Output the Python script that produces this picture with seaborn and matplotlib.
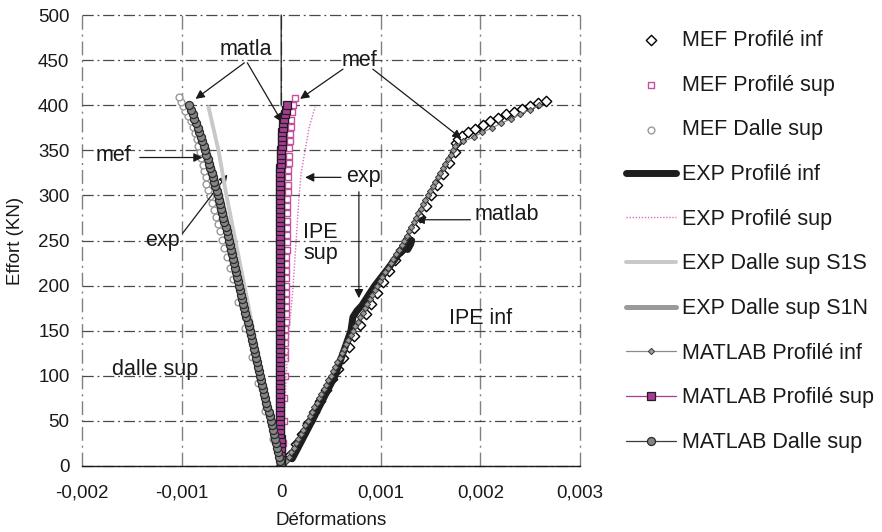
import matplotlib
matplotlib.use("Agg")
import matplotlib.pyplot as plt
import seaborn as sns

sns.set_theme(style="white")
plt.rcParams['font.family'] = ['Liberation Sans', 'DejaVu Sans']

# ---------------- data (strain, load kN) ----------------
x_ticks = [-0.002, -0.001, 0.0, 0.001, 0.002, 0.003]
x_tick_labels = ['-0,002', '-0,001', '0', '0,001', '0,002', '0,003']
y_ticks = [0, 50, 100, 150, 200, 250, 300, 350, 400, 450, 500]
y_tick_labels = ['0', '50', '100', '150', '200', '250', '300', '350', '400', '450', '500']

# MEF Profilé inf (open diamonds)
mef_inf_load = [0, 12, 24, 36, 48, 60, 72, 84, 96, 108, 120, 132, 144, 156, 168, 180, 192,
                204, 216, 228, 240, 252, 264, 276, 288, 300, 312, 324, 336, 348, 358,
                362, 366, 370, 374, 378, 382, 386, 390, 393, 396, 399, 402, 405]
mef_inf_x = [0, 9e-5, 15e-5, 21e-5, 27e-5, 33e-5, 39e-5, 45e-5, 51e-5, 57e-5, 62e-5, 68e-5,
             73e-5, 79e-5, 85e-5, 90e-5, 96e-5, 102e-5, 108e-5, 114e-5, 120e-5, 127e-5,
             133e-5, 139e-5, 145e-5, 150e-5, 156e-5, 162e-5, 168e-5, 174e-5, 176e-5,
             178e-5, 182e-5, 188e-5, 195e-5, 203e-5, 210e-5, 218e-5, 226e-5, 234e-5,
             242e-5, 250e-5, 258e-5, 266e-5]

# MEF Profilé sup (open squares)
mef_sup_load = [0, 25, 50, 75, 100, 120, 128, 136, 144, 152, 160, 168, 176, 184, 192, 200,
                208, 216, 224, 232, 240, 248, 256, 264, 272, 280, 288, 296, 304, 312, 320,
                328, 336, 344, 352, 360, 368, 376, 384, 392, 400, 408]
mef_sup_x = [0, 1.5e-5, 2.5e-5, 3e-5, 3.5e-5, 4e-5, 4e-5, 4e-5, 4e-5, 4e-5, 4.5e-5, 4.5e-5,
             4.5e-5, 4.5e-5, 4.5e-5, 5e-5, 5e-5, 5e-5, 5e-5, 5e-5, 5.5e-5, 5.5e-5, 5.5e-5,
             5.5e-5, 6e-5, 6e-5, 6e-5, 6e-5, 6.5e-5, 6.5e-5, 7e-5, 7e-5, 7.5e-5, 7.5e-5,
             8e-5, 8.5e-5, 9e-5, 9.5e-5, 10e-5, 11e-5, 12e-5, 14e-5]

# MEF Dalle sup (open circles)
mef_dalle_load = [0, 30, 61, 92, 121, 153, 182, 207, 220, 232, 242, 251, 260, 268, 276, 284,
                  292, 299, 306, 313, 320, 327, 334, 341, 348, 355, 362, 369, 376, 382, 388,
                  394, 399, 404, 409]
mef_dalle_x = [0, -8e-5, -16e-5, -23e-5, -29e-5, -36e-5, -43e-5, -48e-5, -51e-5, -54e-5,
               -57e-5, -59e-5, -61e-5, -63e-5, -65e-5, -67e-5, -69e-5, -71e-5, -73e-5,
               -75e-5, -76e-5, -78e-5, -79e-5, -81e-5, -82e-5, -84e-5, -85e-5, -87e-5,
               -89e-5, -91e-5, -94e-5, -97e-5, -99e-5, -101e-5, -103e-5]

# EXP Profilé inf (thick black)
exp_inf_load = [8, 12, 50, 100, 150, 165, 172, 178, 190, 200, 220, 235, 245, 250, 246, 240]
exp_inf_x = [11e-5, 13e-5, 31e-5, 54e-5, 70e-5, 72e-5, 76e-5, 81e-5, 88e-5, 94e-5, 108e-5,
             118e-5, 126e-5, 131e-5, 130e-5, 127e-5]

# EXP Profilé sup (pink dotted)
exp_sup_load = [0, 50, 100, 150, 200, 250, 300, 325, 350, 375, 398]
exp_sup_x = [0, 3e-5, 5e-5, 8e-5, 12e-5, 15e-5, 18e-5, 20e-5, 24e-5, 28e-5, 34e-5]

# EXP Dalle sup S1S (light grey)
exp_s1s_load = [0, 100, 200, 250, 300, 350, 398]
exp_s1s_x = [0, -19e-5, -37e-5, -46e-5, -55e-5, -63e-5, -73e-5]

# EXP Dalle sup S1N (grey)
exp_s1n_load = [0, 100, 200, 250, 300, 350, 395]
exp_s1n_x = [0, -20e-5, -41e-5, -50e-5, -61e-5, -74e-5, -90e-5]

# MATLAB series (common load steps)
matlab_load = [0, 5, 10, 15, 20, 25, 30, 35, 40, 45, 50, 55, 60, 65, 70, 75, 80, 85, 90, 95,
               100, 105, 110, 115, 120, 125, 130, 135, 140, 145, 150, 155, 160, 165, 170, 175,
               180, 185, 190, 195, 200, 205, 210, 215, 220, 225, 230, 235, 240, 245, 250, 255,
               260, 265, 270, 275, 280, 285, 290, 295, 300, 305, 310, 315, 320, 325, 330, 335,
               340, 345, 350, 355, 360, 365, 370, 375, 380, 385, 390, 395, 400]
matlab_inf_x = [0, 5e-5, 8e-5, 10e-5, 13e-5, 15e-5, 17e-5, 20e-5, 22e-5, 24e-5, 27e-5, 29e-5,
                31e-5, 33e-5, 36e-5, 38e-5, 40e-5, 43e-5, 45e-5, 47e-5, 50e-5, 52e-5, 54e-5,
                56e-5, 59e-5, 61e-5, 63e-5, 65e-5, 67e-5, 70e-5, 72e-5, 74e-5, 77e-5, 79e-5,
                82e-5, 84e-5, 86e-5, 89e-5, 91e-5, 94e-5, 96e-5, 99e-5, 101e-5, 104e-5,
                107e-5, 110e-5, 112e-5, 115e-5, 118e-5, 121e-5, 123e-5, 126e-5, 128e-5,
                130e-5, 133e-5, 135e-5, 137e-5, 140e-5, 142e-5, 144e-5, 147e-5, 149e-5,
                152e-5, 154e-5, 157e-5, 159e-5, 162e-5, 164e-5, 167e-5, 170e-5, 172e-5,
                175e-5, 183e-5, 194e-5, 202e-5, 212e-5, 221e-5, 231e-5, 240e-5, 250e-5,
                259e-5]
matlab_sup_x = [0, 0, 0, 0, -0.5e-5, -0.5e-5, -0.5e-5, -1e-5, -1e-5, -1e-5, -1e-5, -1e-5,
                -1e-5, -1e-5, -1e-5, -1e-5, -1e-5, -1e-5, -1e-5, -1e-5, -1e-5, -1e-5, -1e-5,
                -1e-5, -1e-5, -1e-5, -1e-5, -1e-5, -1e-5, -1e-5, -1e-5, -1e-5, -1e-5, -1e-5,
                -1e-5, -1e-5, -1e-5, -1e-5, -1e-5, -1e-5, -1e-5, -1e-5, -1e-5, -1e-5, -1e-5,
                -1e-5, -1e-5, -1e-5, -1e-5, -1e-5, -1e-5, -1e-5, -1e-5, -1e-5, -1e-5, -1e-5,
                -1e-5, -1e-5, -1e-5, -1e-5, -1e-5, -1e-5, -1e-5, -1e-5, -1e-5, -1e-5, -1e-5,
                -0.5e-5, 0, 0, 0, 0.5e-5, 0.5e-5, 1e-5, 1e-5, 1.5e-5, 2e-5, 2.5e-5, 3.5e-5,
                4.5e-5, 6e-5]
matlab_dalle_x = [0, -1e-5, -2e-5, -3e-5, -4.5e-5, -5.5e-5, -6.5e-5, -7.5e-5, -8.5e-5,
                  -9.5e-5, -10.5e-5, -11.5e-5, -12.5e-5, -14e-5, -15e-5, -16e-5, -17e-5,
                  -18e-5, -19e-5, -20e-5, -21e-5, -22e-5, -23e-5, -24.5e-5, -25.5e-5,
                  -26.5e-5, -27.5e-5, -28.5e-5, -29.5e-5, -30.5e-5, -31.5e-5, -32.5e-5,
                  -33.5e-5, -35e-5, -36e-5, -37e-5, -38e-5, -39e-5, -40e-5, -41e-5, -42e-5,
                  -43e-5, -44e-5, -45.5e-5, -46.5e-5, -47.5e-5, -48.5e-5, -49.5e-5, -50.5e-5,
                  -51.5e-5, -52.5e-5, -53.5e-5, -54.5e-5, -55.5e-5, -57e-5, -58e-5, -59e-5,
                  -60e-5, -61e-5, -62.5e-5, -63.5e-5, -64.5e-5, -66e-5, -67e-5, -68.5e-5,
                  -69.5e-5, -71e-5, -72e-5, -73.5e-5, -75e-5, -76.5e-5, -78e-5, -79.5e-5,
                  -81e-5, -82.5e-5, -84e-5, -86e-5, -87.5e-5, -89e-5, -91e-5, -93e-5]

# ---------------- figure ----------------
fig = plt.figure(figsize=(8.82, 5.32), dpi=100)
ax = fig.add_axes([82 / 882, 66 / 532, 498 / 882, 451 / 532])

# MEF
sns.scatterplot(x=mef_inf_x, y=mef_inf_load, marker='D', s=28, color='white',
                edgecolor='black', linewidth=1.0, label='MEF Profilé inf', ax=ax, zorder=3)
sns.scatterplot(x=mef_sup_x, y=mef_sup_load, marker='s', s=24, color='white',
                edgecolor='#c4509f', linewidth=1.0, label='MEF Profilé sup', ax=ax, zorder=3)
sns.scatterplot(x=mef_dalle_x, y=mef_dalle_load, marker='o', s=24, color='white',
                edgecolor='#9a9a9a', linewidth=1.0, label='MEF Dalle sup', ax=ax, zorder=3)

# EXP
sns.lineplot(x=exp_inf_x, y=exp_inf_load, sort=False, estimator=None, color='#1e1e1e',
             lw=5.0, label='EXP Profilé inf', ax=ax, zorder=4)
sns.lineplot(x=exp_sup_x, y=exp_sup_load, sort=False, estimator=None, color='#d872bd',
             lw=1.0, linestyle=(0, (1, 1.2)), label='EXP Profilé sup', ax=ax, zorder=4)
sns.lineplot(x=exp_s1s_x, y=exp_s1s_load, sort=False, estimator=None, color='#c8c8c8',
             lw=2.8, label='EXP Dalle sup S1S', ax=ax, zorder=4)
sns.lineplot(x=exp_s1n_x, y=exp_s1n_load, sort=False, estimator=None, color='#9a9a9a',
             lw=3.6, label='EXP Dalle sup S1N', ax=ax, zorder=4)

# MATLAB
sns.lineplot(x=matlab_inf_x, y=matlab_load, sort=False, estimator=None, color='#8a8a8a',
             lw=0.9, marker='D', markersize=3.2, markerfacecolor='#9a9a9a',
             markeredgecolor='#3a3a3a', markeredgewidth=0.7,
             label='MATLAB Profilé inf', ax=ax, zorder=5)
sns.lineplot(x=matlab_sup_x, y=matlab_load, sort=False, estimator=None, color='#a83c92',
             lw=0.9, marker='s', markersize=5.2, markerfacecolor='#a83c92',
             markeredgecolor='#1e1e1e', markeredgewidth=0.9,
             label='MATLAB Profilé sup', ax=ax, zorder=5)
sns.lineplot(x=matlab_dalle_x, y=matlab_load, sort=False, estimator=None, color='#3a3a3a',
             lw=0.9, marker='o', markersize=5.8, markerfacecolor='#858585',
             markeredgecolor='#2a2a2a', markeredgewidth=0.9,
             label='MATLAB Dalle sup', ax=ax, zorder=5)

# ---------------- axes styling ----------------
ax.set_xlim(-0.002, 0.003)
ax.set_ylim(0, 500)
ax.set_xticks(x_ticks)
ax.set_xticklabels(x_tick_labels)
ax.set_yticks(y_ticks)
ax.set_yticklabels(y_tick_labels)
ax.tick_params(axis='both', length=0, labelsize=13.5, colors='#1a1a1a')
ax.tick_params(axis='x', pad=13)
ax.tick_params(axis='y', pad=9)
ax.set_xlabel('Déformations', fontsize=13.5, color='#1a1a1a', labelpad=8)
ax.set_ylabel('Effort (KN)', fontsize=13.5, color='#1a1a1a', labelpad=10)

for s in ['top', 'right', 'left']:
    ax.spines[s].set_visible(False)
ax.spines['bottom'].set_color('#1a1a1a')
ax.spines['bottom'].set_linewidth(1.0)
ax.spines['bottom'].set_zorder(6)

ax.set_axisbelow(True)
ax.grid(True, which='major', axis='y', color='#4a4a4a', lw=0.9,
        linestyle=(0, (9, 3, 1.5, 3)))
ax.grid(True, which='major', axis='x', color='#808080', lw=1.0,
        linestyle=(0, (10, 3.5, 1.5, 3.5)))
for gl in ax.get_xgridlines() + ax.get_ygridlines():
    gl.set_clip_on(False)

# ---------------- annotations ----------------
arrow = dict(arrowstyle='-|>', color='#1a1a1a', lw=0.9, mutation_scale=13,
             shrinkA=0, shrinkB=0)
tfs = 15.5
tc = '#1a1a1a'

ax.text(-0.00036, 462, 'matla', fontsize=tfs, color=tc, ha='center', va='center')
ax.annotate('', xy=(-0.00086, 407), xytext=(-0.00037, 447), arrowprops=arrow)
ax.annotate('', xy=(0.00001, 381), xytext=(-0.00034, 447), arrowprops=arrow)
ax.annotate('', xy=(0.0, 400), xytext=(0.0, 500),
            arrowprops=dict(arrowstyle='-', color='#1a1a1a', lw=0.9, shrinkA=0, shrinkB=0))

ax.text(0.00079, 450, 'mef', fontsize=tfs, color=tc, ha='center', va='center')
ax.annotate('', xy=(0.00019, 407), xytext=(0.00062, 440), arrowprops=arrow)
ax.annotate('', xy=(0.00181, 363), xytext=(0.00092, 440), arrowprops=arrow)

ax.text(-0.00168, 344, 'mef', fontsize=tfs, color=tc, ha='center', va='center')
ax.annotate('', xy=(-0.00079, 342), xytext=(-0.00142, 342), arrowprops=arrow)

ax.text(-0.00119, 250, 'exp', fontsize=tfs, color=tc, ha='center', va='center')
ax.annotate('', xy=(-0.00054, 323), xytext=(-0.00099, 258), arrowprops=arrow)

ax.text(0.00083, 321, 'exp', fontsize=tfs, color=tc, ha='center', va='center')
ax.annotate('', xy=(0.00024, 320), xytext=(0.00060, 320), arrowprops=arrow)
ax.annotate('', xy=(0.00078, 186), xytext=(0.00078, 304), arrowprops=arrow)

ax.text(0.00022, 247, 'IPE\nsup', fontsize=tfs, color=tc, ha='left', va='center',
        linespacing=1.0)

ax.text(0.00227, 279, 'matlab', fontsize=tfs, color=tc, ha='center', va='center')
ax.annotate('', xy=(0.00135, 273), xytext=(0.00190, 273), arrowprops=arrow)

ax.text(0.00200, 163, 'IPE inf', fontsize=tfs, color=tc, ha='center', va='center')
ax.text(-0.00127, 107, 'dalle sup', fontsize=tfs, color=tc, ha='center', va='center')

# ---------------- legend ----------------
h, l = ax.get_legend_handles_labels()
ax.legend(h, l, loc='upper left', bbox_to_anchor=(626 / 882, 1 - 30 / 532),
          bbox_transform=fig.transFigure, frameon=False, fontsize=15.5,
          handlelength=2.3, handletextpad=0.3, labelspacing=1.1,
          borderpad=0, borderaxespad=0, labelcolor='#1a1a1a')

fig.savefig('out.png', dpi=100)
